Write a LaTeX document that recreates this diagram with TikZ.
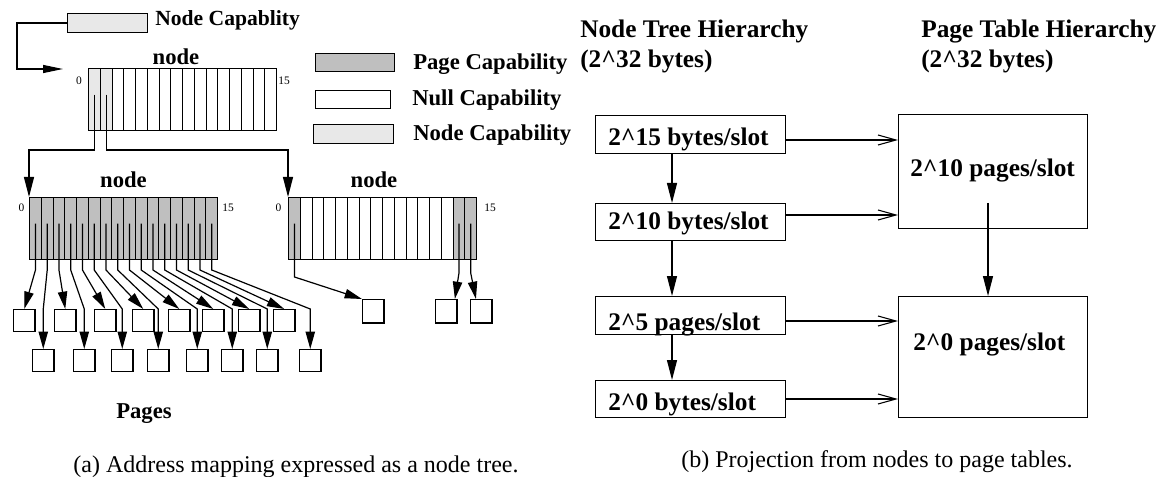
\documentclass[tikz,border=0pt]{standalone}
\usepackage{fontspec}
\setmainfont{Liberation Serif}
\usetikzlibrary{arrows.meta}
\definecolor{pagegray}{gray}{0.75}
\definecolor{nodegray}{gray}{0.91}
\begin{document}
\begin{tikzpicture}[x=0.75pt,y=-0.75pt,
  lbl/.style={font=\fontsize{17}{20}\selectfont\bfseries, inner sep=0pt},
  blbl/.style={font=\fontsize{19}{22}\selectfont\bfseries, inner sep=0pt},
  num/.style={font=\fontsize{8.6}{10}\selectfont, inner sep=0pt},
  captxt/.style={font=\fontsize{18}{21}\selectfont, inner sep=0pt},
  slot/.style={draw, line width=0.9pt, minimum width=8.8125pt, minimum height=46.5pt, inner sep=0pt, anchor=north west},
  page/.style={draw, line width=0.9pt, minimum width=16pt, minimum height=16.5pt, inner sep=0pt, anchor=north west},
  legbox/.style={draw, line width=0.9pt, minimum width=59pt, minimum height=13.5pt, inner sep=0pt, anchor=north west},
  bbox/.style={draw, line width=0.9pt, inner sep=0pt, anchor=north west},
  ptr/.style={line width=0.9pt, -{Triangle[length=13pt,width=7pt]}},
  vptr/.style={line width=0.9pt, -{Triangle[length=15pt,width=7.5pt]}},
  barb/.style={line width=0.8pt, -{Straight Barb[length=13.5pt,width=7.5pt]}},
]
\useasboundingbox (0,0) rectangle (1162,477);

% ---------- (a) ----------
\node[legbox, fill=nodegray, minimum width=60pt, minimum height=14pt] (nc) at (67,13) {};
\node[lbl, font=\fontsize{16.2}{19}\selectfont\bfseries, anchor=base west] (nctxt) at (155,26) {Node Capablity};
\coordinate (topin) at (63,69);
\draw[line width=0.9pt, -{Triangle[length=15pt,width=6pt]}] (nc.west) -| (17,69) -- (topin);

% top node
\foreach \i in {0,1} \node[slot, fill=nodegray] (t\i) at ({88+11.75*\i},68) {};
\foreach \i in {2,...,15} \node[slot, fill=white] (t\i) at ({88+11.75*\i},68) {};
\node[lbl, anchor=base] (tl) at (176,65) {node};
\node[num, anchor=base] (t0n) at (79,85) {0};
\node[num, anchor=base] (t15n) at (284,85) {15};

% left node
\foreach \i in {0,...,15} \node[slot, fill=pagegray] (m\i) at ({29+11.75*\i},197) {};
\node[lbl, anchor=base] (ml) at (123.5,188) {node};
\node[num, anchor=base] (m0n) at (21.5,212) {0};
\node[num, anchor=base] (m15n) at (228,212) {15};

% right node
\foreach \i in {0,14,15} \node[slot, fill=pagegray] (r\i) at ({288+11.75*\i},197) {};
\foreach \i in {1,...,13} \node[slot, fill=white] (r\i) at ({288+11.75*\i},197) {};
\node[lbl, anchor=base] (rl) at (374,188) {node};
\node[num, anchor=base] (r0n) at (278.5,212) {0};
\node[num, anchor=base] (r15n) at (490,212) {15};

% top pointers
\draw[vptr] ([yshift=3.75pt]t0.center) -- (t0.center |- 0,150) -| (m0.north west);
\draw[vptr] ([yshift=3.75pt]t1.center) -- (t1.center |- 0,150) -| (r0.north west);

% legend
\node[legbox, fill=pagegray] (lp) at (315,53) {};
\node[lbl, anchor=base west] (lpt) at (413,70) {Page Capability};
\node[legbox, fill=white, minimum width=56pt] (ln) at (315,90) {};
\node[lbl, anchor=base west] (lnt) at (412,106) {Null Capability};
\node[legbox, fill=nodegray, minimum width=60pt, minimum height=14pt] (lc) at (313,124) {};
\node[lbl, anchor=base west] (lct) at (413,141) {Node Capability};

% pages
\foreach \k/\ax/\bx in {0/13/32, 1/54/73, 2/94/111, 3/132/147, 4/168/186, 5/202/221, 6/238/256, 7/273/299} {
  \node[page] (p\k) at (\ax,309) {};
  \node[page] (q\k) at (\bx,349) {};
}
\foreach \k [evaluate=\k as \e using int(2*\k), evaluate=\k as \o using int(2*\k+1)] in {0,...,7} {
  \draw[ptr] ([yshift=3.75pt]m\e.center) -- (m\e.center |- 0,270) -- (p\k.north);
  \draw[ptr] ([yshift=3.75pt]m\o.center) -- (m\o.center |- 0,270) -- (q\k.north |- 0,309) -- (q\k.north);
}
\node[page, minimum height=17.5pt] (s0) at (362,299) {};
\node[page, minimum height=17.5pt] (s1) at (435,299) {};
\node[page, minimum height=17.5pt] (s2) at (470,299) {};
\draw[ptr] ([yshift=3.75pt]r0.center) -- (r0.center |- 0,277) -- (s0.north west);
\draw[ptr] ([yshift=3.75pt]r14.center) -- (r14.center |- 0,273) -- ([xshift=-2pt]s1.north east);
\draw[ptr] ([yshift=3.75pt]r15.center) -- (r15.center |- 0,273) -- ([xshift=-4pt]s2.north);

\node[lbl, anchor=base west] (pg) at (116,418) {Pages};
\node[captxt, anchor=base] (capa) at (296,472) {(a) Address mapping expressed as a node tree.};

% ---------- (b) ----------
\node[blbl, anchor=base west] (h1) at (580,38) {Node Tree Hierarchy};
\node[blbl, anchor=base west] (h1b) at (580,68) {(2\textasciicircum 32 bytes)};
\node[blbl, anchor=base west] (h2) at (921,38) {Page Table Hierarchy};
\node[blbl, anchor=base west] (h2b) at (921,68) {(2\textasciicircum 32 bytes)};

\node[bbox, minimum width=142.5pt, minimum height=28.5pt] (b1) at (595,115) {};
\node[bbox, minimum width=142.5pt, minimum height=27.75pt] (b2) at (595,203) {};
\node[bbox, minimum width=142.5pt, minimum height=28.5pt] (b3) at (595,296) {};
\node[bbox, minimum width=142.5pt, minimum height=27.75pt] (b4) at (595,380) {};
\node[bbox, minimum width=141.75pt, minimum height=85.5pt] (c1) at (898,114) {};
\node[bbox, minimum width=141.75pt, minimum height=90.75pt] (c2) at (898,296) {};

\node[blbl, anchor=base west] (b1t) at (608,146) {2\textasciicircum 15 bytes/slot};
\node[blbl, anchor=base west] (b2t) at (608,229) {2\textasciicircum 10 bytes/slot};
\node[blbl, anchor=base west] (b3t) at (608,330) {2\textasciicircum 5 pages/slot};
\node[blbl, anchor=base west] (b4t) at (608,410) {2\textasciicircum 0 bytes/slot};
\node[blbl, anchor=base west] (c1t) at (910,177) {2\textasciicircum 10 pages/slot};
\node[blbl, anchor=base west] (c2t) at (913,350) {2\textasciicircum 0 pages/slot};

\draw[vptr] (b1.south -| 672,0) -- (b2.north -| 672,0);
\draw[vptr] (b2.south -| 672,0) -- (b3.north -| 672,0);
\draw[vptr] (b3.south -| 672,0) -- (b4.north -| 672,0);
\draw[vptr] (988,203) -- (c2.north -| 988,0);

\draw[barb] (b1.east |- 0,140) -- (c1.west |- 0,140);
\draw[barb] (b2.east |- 0,215) -- (c1.west |- 0,215);
\draw[barb] (b3.east |- 0,321) -- (c2.west |- 0,321);
\draw[barb] (b4.east |- 0,399) -- (c2.west |- 0,399);

\node[captxt, anchor=base] (capb) at (877,467) {(b) Projection from nodes to page tables.};
\end{tikzpicture}
\end{document}
